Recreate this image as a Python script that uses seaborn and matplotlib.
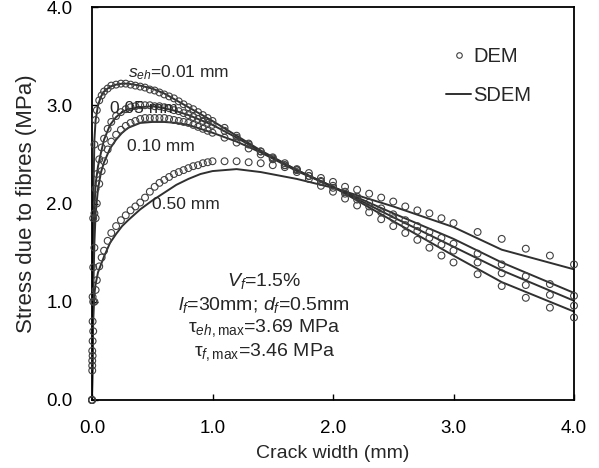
import numpy as np
import pandas as pd
import matplotlib
matplotlib.use("Agg")
import matplotlib.pyplot as plt
from matplotlib.lines import Line2D
import seaborn as sns

# ---------------- data ----------------
series_names = ["0.01", "0.05", "0.10", "0.50"]

x_sdem = [0, 0.005, 0.01, 0.02, 0.03, 0.05, 0.075, 0.1, 0.15, 0.2, 0.25, 0.3, 0.4,
          0.5, 0.6, 0.7, 0.8, 0.9, 1.0, 1.2, 1.4, 1.7, 2.0, 2.5, 3.0, 3.4, 4.0]
sdem_001 = [0, 1.2, 2.0, 2.65, 2.85, 3.0, 3.09, 3.14, 3.19, 3.21, 3.22, 3.22, 3.20,
            3.17, 3.12, 3.05, 2.98, 2.91, 2.84, 2.69, 2.54, 2.34, 2.17, 1.82, 1.47, 1.20, 0.90]
sdem_005 = [0, 0.8, 1.4, 1.95, 2.2, 2.38, 2.52, 2.65, 2.80, 2.88, 2.93, 2.96, 2.98,
            2.99, 2.97, 2.94, 2.90, 2.85, 2.80, 2.67, 2.53, 2.34, 2.17, 1.86, 1.56, 1.32, 1.01]
sdem_010 = [0, 0.6, 1.1, 1.6, 1.9, 2.15, 2.32, 2.42, 2.56, 2.65, 2.72, 2.77, 2.82,
            2.83, 2.83, 2.82, 2.80, 2.76, 2.72, 2.63, 2.52, 2.33, 2.17, 1.90, 1.64, 1.40, 1.09]
sdem_050 = [0, 0.5, 0.8, 1.08, 1.18, 1.30, 1.38, 1.46, 1.60, 1.69, 1.77, 1.83, 1.94,
            2.03, 2.11, 2.19, 2.25, 2.30, 2.33, 2.35, 2.32, 2.25, 2.16, 1.97, 1.76, 1.53, 1.33]

x_dem = [0, 0.002, 0.005, 0.01, 0.02, 0.03, 0.04, 0.06, 0.08, 0.10,
         0.13, 0.16, 0.20, 0.24, 0.28, 0.32, 0.36, 0.40, 0.44, 0.48,
         0.52, 0.56, 0.60, 0.64, 0.68, 0.72, 0.76, 0.80, 0.84, 0.88,
         0.92, 0.96, 1.0, 1.1, 1.2, 1.3, 1.4, 1.5, 1.6, 1.7,
         1.8, 1.9, 2.0, 2.1, 2.2, 2.3, 2.4, 2.5, 2.6, 2.7,
         2.8, 2.9, 3.0, 3.2, 3.4, 3.6, 3.8, 4.0]
dem_001 = [0, 0.5, 1.05, 1.85, 2.6, 2.85, 2.95, 3.05, 3.10, 3.14,
           3.17, 3.20, 3.21, 3.22, 3.22, 3.21, 3.20, 3.19, 3.18, 3.16,
           3.15, 3.13, 3.11, 3.09, 3.07, 3.04, 3.01, 2.98, 2.96, 2.93,
           2.90, 2.87, 2.84, 2.77, 2.69, 2.61, 2.53, 2.46, 2.39, 2.32,
           2.25, 2.18, 2.12, 2.05, 1.98, 1.91, 1.84, 1.77, 1.70, 1.63,
           1.55, 1.47, 1.40, 1.28, 1.16, 1.04, 0.94, 0.84]
dem_005 = [0, 0.4, 0.8, 1.35, 1.9, 2.15, 2.3, 2.45, 2.57, 2.66,
           2.76, 2.83, 2.89, 2.93, 2.96, 2.98, 2.99, 3.0, 3.0, 3.0,
           2.99, 2.99, 2.98, 2.97, 2.95, 2.94, 2.92, 2.90, 2.88, 2.86,
           2.84, 2.82, 2.80, 2.74, 2.67, 2.60, 2.53, 2.47, 2.41, 2.35,
           2.28, 2.22, 2.16, 2.10, 2.04, 1.97, 1.91, 1.85, 1.78, 1.72,
           1.65, 1.58, 1.52, 1.40, 1.29, 1.17, 1.07, 0.96]
dem_010 = [0, 0.35, 0.6, 1.0, 1.55, 1.85, 2.0, 2.2, 2.33, 2.43,
           2.55, 2.63, 2.70, 2.75, 2.79, 2.82, 2.84, 2.86, 2.87, 2.87,
           2.87, 2.87, 2.87, 2.86, 2.85, 2.84, 2.83, 2.82, 2.80, 2.78,
           2.76, 2.74, 2.72, 2.67, 2.62, 2.56, 2.50, 2.45, 2.39, 2.34,
           2.28, 2.23, 2.18, 2.12, 2.07, 2.01, 1.95, 1.89, 1.83, 1.77,
           1.71, 1.65, 1.59, 1.49, 1.38, 1.26, 1.18, 1.06]
dem_050 = [0, 0.3, 0.45, 0.7, 1.0, 1.12, 1.22, 1.36, 1.45, 1.52,
           1.62, 1.70, 1.77, 1.83, 1.88, 1.93, 1.97, 2.01, 2.06, 2.12,
           2.17, 2.21, 2.24, 2.27, 2.30, 2.32, 2.34, 2.36, 2.38, 2.39,
           2.41, 2.42, 2.43, 2.43, 2.43, 2.42, 2.41, 2.39, 2.37, 2.34,
           2.31, 2.26, 2.22, 2.17, 2.14, 2.10, 2.06, 2.02, 1.97, 1.93,
           1.90, 1.85, 1.80, 1.71, 1.64, 1.54, 1.47, 1.38]

x_ticks = [0.0, 1.0, 2.0, 3.0, 4.0]
y_ticks = [0.0, 1.0, 2.0, 3.0, 4.0]
x_tick_labels = ["0.0", "1.0", "2.0", "3.0", "4.0"]
y_tick_labels = ["0.0", "1.0", "2.0", "3.0", "4.0"]

# ---------------- tables ----------------
sdem_vals = [sdem_001, sdem_005, sdem_010, sdem_050]
dem_vals = [dem_001, dem_005, dem_010, dem_050]
df_sdem = pd.concat([pd.DataFrame({"w": x_sdem, "stress": v, "seh": n})
                     for n, v in zip(series_names, sdem_vals)], ignore_index=True)
df_dem = pd.concat([pd.DataFrame({"w": x_dem, "stress": v, "seh": n})
                    for n, v in zip(series_names, dem_vals)], ignore_index=True)

# ---------------- style ----------------
sns.set_style("ticks")
plt.rcParams["font.family"] = ["Liberation Sans", "DejaVu Sans"]
plt.rcParams["mathtext.fontset"] = "custom"
plt.rcParams["mathtext.rm"] = "Liberation Sans"
plt.rcParams["mathtext.it"] = "Liberation Sans:italic"
plt.rcParams["mathtext.bf"] = "Liberation Sans:bold"

fig = plt.figure(figsize=(5.99, 4.68), dpi=100)
ax = fig.add_axes([92 / 599, 68 / 468, 482 / 599, 393 / 468])

line_color = "#303030"
sns.lineplot(data=df_sdem, x="w", y="stress", units="seh", estimator=None,
             sort=False, color=line_color, linewidth=1.4, ax=ax, legend=False)
sns.scatterplot(data=df_dem, x="w", y="stress", ax=ax, marker="o", s=24,
                facecolor="none", edgecolor="#404040", linewidth=0.8,
                legend=False, clip_on=False, zorder=3)

ax.set_xlim(0, 4)
ax.set_ylim(0, 4)
ax.set_xticks(x_ticks)
ax.set_xticklabels(x_tick_labels)
ax.set_yticks(y_ticks)
ax.set_yticklabels(y_tick_labels)
ax.tick_params(direction="in", length=4, width=1, labelsize=13.5, colors="black")
ax.tick_params(axis="x", pad=14.5)
ax.tick_params(axis="y", pad=14)
for sp in ax.spines.values():
    sp.set_visible(True)
    sp.set_linewidth(1.3)
    sp.set_color("black")

ax.set_xlabel("Crack width (mm)", fontsize=14, labelpad=5.5)
ax.set_ylabel("Stress due to fibres (MPa)", fontsize=16, labelpad=7)

# curve labels
ax.text(0.30, 3.33, r"$s_{eh}$=0.01 mm", fontsize=12.5, ha="left", va="center")
ax.text(0.15, 2.97, "0.05 mm", fontsize=12.5, ha="left", va="center")
ax.text(0.29, 2.585, "0.10 mm", fontsize=12.5, ha="left", va="center")
ax.text(0.50, 1.985, "0.50 mm", fontsize=12.5, ha="left", va="center")

# parameter block
tx = 1.43
ax.text(tx, 1.21, r"$V_f$=1.5%", fontsize=14, ha="center", va="center")
ax.text(tx, 0.967, r"$l_f$=30mm; $d_f$=0.5mm", fontsize=14, ha="center", va="center")
ax.text(tx, 0.733, r"τ$_{eh,\mathrm{max}}$=3.69 MPa", fontsize=14, ha="center", va="center")
ax.text(tx, 0.489, r"τ$_{f,\mathrm{max}}$=3.46 MPa", fontsize=14, ha="center", va="center")

# legend
handles = [Line2D([], [], marker="o", linestyle="none", markersize=4,
                  markerfacecolor="none", markeredgecolor="#404040", markeredgewidth=0.8),
           Line2D([], [], color=line_color, linewidth=1.4)]
ax.legend(handles, ["DEM", "SDEM"], loc="upper left", bbox_to_anchor=(0.735, 0.898),
          frameon=False, fontsize=14.5, handlelength=1.25, handletextpad=0.1,
          labelspacing=1.0, borderpad=0, borderaxespad=0)

fig.savefig("out.png", dpi=100)
